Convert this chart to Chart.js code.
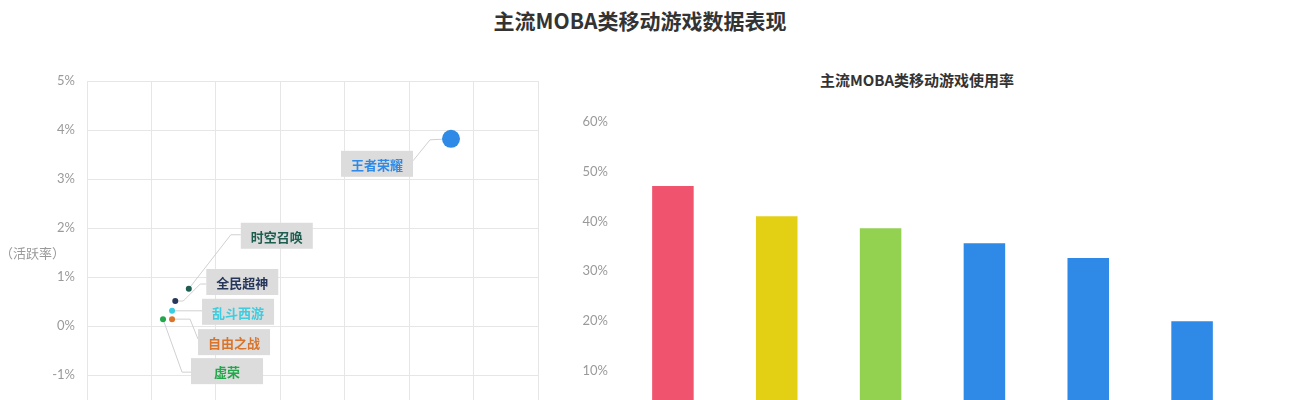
<!DOCTYPE html>
<html lang="zh">
<head>
    <meta charset="UTF-8">
    <title>主流MOBA类移动游戏数据表现</title>
    <script src="https://cdn.jsdelivr.net/npm/chart.js"></script>
    <style>
        body {
            margin: 0;
            width: 1290px;
            height: 400px;
            overflow: hidden;
            background: #fff;
            font-family: Lato, "Noto Sans CJK SC", sans-serif;
            position: relative;
        }
        .title {
            position: absolute;
            left: -10px; width: 1300px; top: 5px;
            text-align: center;
            font: bold 21px "Noto Sans CJK SC", sans-serif;
            color: #333;
        }
        .subtitle {
            position: absolute;
            left: 717px; width: 400px; top: 69px;
            text-align: center;
            font: bold 15px "Noto Sans CJK SC", sans-serif;
            color: #333;
        }
        .ytitle {
            position: absolute;
            left: 0px; top: 243px;
            font: 13px "Noto Sans CJK SC", sans-serif;
            color: #999;
        }
        #scatter { position: absolute; left: 0; top: 0; }
        #bars { position: absolute; left: 560px; top: 0; }
    </style>
</head>
<body>
    <div class="title">主流MOBA类移动游戏数据表现</div>
    <div class="subtitle">主流MOBA类移动游戏使用率</div>
    <canvas id="scatter" width="560" height="470"></canvas>
    <canvas id="bars" width="730" height="470"></canvas>
    <div class="ytitle">（活跃率）</div>

    <script>
        // scatter data (x in grid units, y = active rate %)
        const games = ['王者荣耀', '时空召唤', '全民超神', '乱斗西游', '自由之战', '虚荣'];
        const gameX = [5.65, 1.58, 1.37, 1.32, 1.32, 1.18];
        const gameY = [3.82, 0.76, 0.51, 0.31, 0.14, 0.14];
        const gameColors = ['#2e8ae6', '#1d5e50', '#27375c', '#3ccde0', '#d9742a', '#22a84a'];
        const gameRadius = [9, 3, 3, 3, 3, 3];

        // bar data (usage rate %)
        const barLabels = ['王者荣耀', '全民超神', '时空召唤', '乱斗西游', '自由之战', '虚荣'];
        const barValues = [47.1, 41.0, 38.6, 35.6, 32.6, 19.9];
        const barColors = ['#f0536e', '#e3cf14', '#93d150', '#2e8ae6', '#2e8ae6', '#2e8ae6'];

        // label box layout: box centre offset from point, connector path offsets
        const boxOffsets = [[-74, 25], [88, -53], [67, -19], [66, 1], [62, 23], [64, 52]];
        const connectors = [
            [[0, 0], [-21, 1], [-38, 22]],
            [[0, 0], [42, -54], [52, -54]],
            [[0, 0], [8, 0], [25, -17], [31, -17]],
            [[0, 0], [30, 0]],
            [[0, 0], [18, 0], [26, 20]],
            [[0, 0], [19, 53], [28, 53]]
        ];

        const tickFont = { family: 'Lato, "Noto Sans CJK SC", sans-serif', size: 13 };

        const labelPlugin = {
            id: 'gameLabels',
            beforeDatasetsDraw(chart) {
                const ctx = chart.ctx;
                const meta = chart.getDatasetMeta(0);
                ctx.save();
                meta.data.forEach((pt, i) => {
                    const px = pt.x, py = pt.y;
                    ctx.strokeStyle = '#d0d0d0';
                    ctx.lineWidth = 1;
                    ctx.beginPath();
                    connectors[i].forEach((c, j) => {
                        if (j === 0) ctx.moveTo(px + c[0], py + c[1]);
                        else ctx.lineTo(px + c[0], py + c[1]);
                    });
                    ctx.stroke();
                    const bx = px + boxOffsets[i][0], by = py + boxOffsets[i][1];
                    ctx.fillStyle = '#dcdcdc';
                    ctx.fillRect(bx - 36, by - 13, 72, 26);
                    ctx.fillStyle = gameColors[i];
                    ctx.font = 'bold 13px "Noto Sans CJK SC", sans-serif';
                    ctx.textAlign = 'center';
                    ctx.textBaseline = 'middle';
                    ctx.fillText(games[i], bx, by + 1);
                });
                ctx.restore();
            }
        };

        new Chart(document.getElementById('scatter'), {
            type: 'scatter',
            data: {
                datasets: [{
                    data: gameX.map((x, i) => ({ x: x, y: gameY[i] })),
                    pointBackgroundColor: gameColors,
                    pointBorderWidth: 0,
                    pointRadius: gameRadius,
                    pointHoverRadius: gameRadius
                }]
            },
            options: {
                responsive: false,
                animation: false,
                layout: { padding: { top: 81, bottom: 16, right: 22, left: 0 } },
                plugins: { legend: { display: false }, tooltip: { enabled: false } },
                scales: {
                    x: {
                        min: 0, max: 7,
                        ticks: { stepSize: 1, display: false },
                        grid: { color: '#e6e6e6', drawTicks: false },
                        border: { color: '#e6e6e6' },
                        afterFit: s => { s.height = 30; }
                    },
                    y: {
                        min: -2, max: 5,
                        ticks: { stepSize: 1, color: '#9a9a9a', font: tickFont, padding: 12, callback: v => v + '%' },
                        grid: { color: '#e6e6e6', drawTicks: false },
                        border: { color: '#e6e6e6' },
                        afterFit: s => { s.width = 87; }
                    }
                }
            },
            plugins: [labelPlugin]
        });

        new Chart(document.getElementById('bars'), {
            type: 'bar',
            data: {
                labels: barLabels,
                datasets: [{
                    data: barValues,
                    backgroundColor: barColors,
                    barPercentage: 0.4,
                    categoryPercentage: 1.0
                }]
            },
            options: {
                responsive: false,
                animation: false,
                layout: { padding: { top: 122, bottom: 20, right: 46, left: 0 } },
                plugins: { legend: { display: false }, tooltip: { enabled: false } },
                scales: {
                    x: {
                        ticks: { color: '#9a9a9a', font: tickFont },
                        grid: { display: false },
                        border: { display: false },
                        afterFit: s => { s.height = 30; }
                    },
                    y: {
                        min: 0, max: 60,
                        ticks: { stepSize: 10, color: '#9a9a9a', font: tickFont, padding: 13, callback: v => v + '%' },
                        grid: { display: false, drawTicks: false },
                        border: { display: false },
                        afterFit: s => { s.width = 61; }
                    }
                }
            }
        });
    </script>
</body>
</html>
